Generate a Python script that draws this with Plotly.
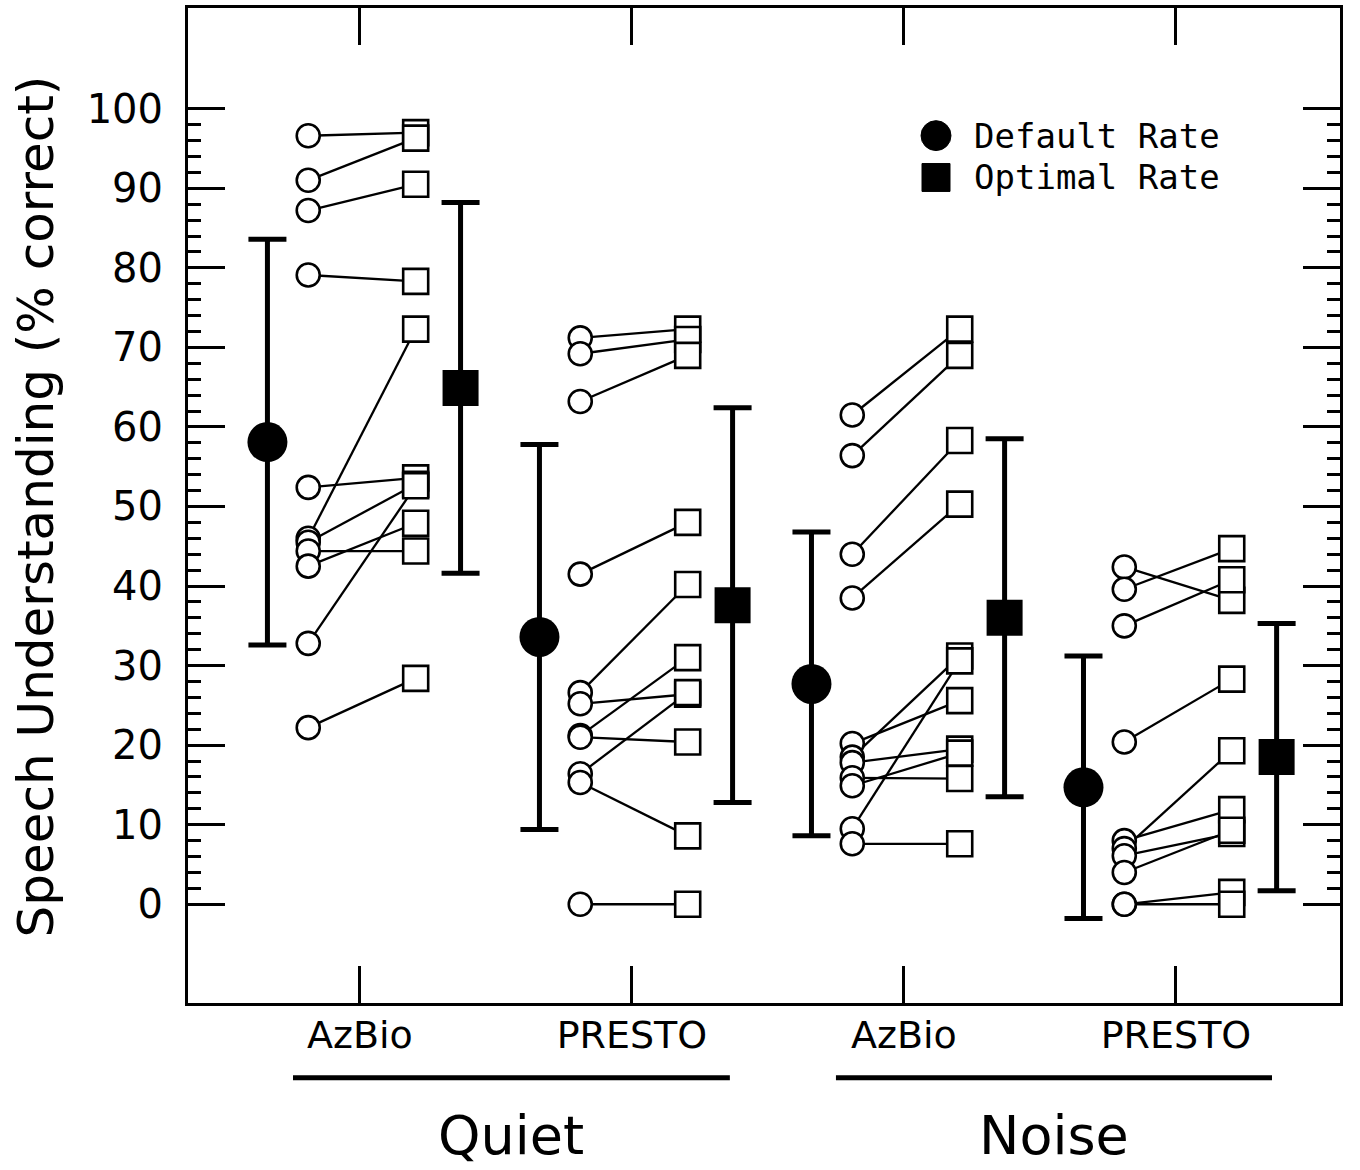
import plotly.graph_objects as go

# ---------------- data ----------------
categories = ["AzBio", "PRESTO", "AzBio", "PRESTO"]
groups = ["Quiet", "Noise"]
y_tick_labels = [str(v) for v in range(0, 101, 10)]

quiet_azbio_default = [96.6, 91.0, 87.2, 79.1, 52.4, 46.0, 45.5, 44.4, 42.5, 32.8, 22.2]
quiet_azbio_optimal = [97.0, 96.3, 90.5, 78.3, 53.6, 72.3, 52.8, 44.4, 47.9, 52.6, 28.4]

quiet_presto_default = [71.2, 69.2, 63.2, 41.5, 26.6, 25.2, 21.2, 21.0, 16.4, 15.3, 0.0]
quiet_presto_optimal = [72.3, 71.0, 69.0, 48.0, 40.2, 26.4, 31.0, 20.4, 26.6, 8.6, 0.0]

noise_azbio_default = [61.5, 56.4, 44.0, 38.5, 20.2, 18.5, 17.8, 15.9, 14.9, 9.5, 7.6]
noise_azbio_optimal = [72.3, 69.0, 58.3, 50.3, 25.6, 31.2, 19.5, 15.8, 19.0, 30.6, 7.6]

noise_presto_default = [42.4, 39.6, 35.0, 20.4, 8.0, 7.0, 6.1, 4.0, 0.0, 0.0]
noise_presto_optimal = [38.2, 44.7, 40.8, 28.3, 11.9, 19.3, 8.9, 9.3, 1.5, 0.0]

mean_default = [58.1, 33.6, 27.7, 14.7]
sd_default = [25.5, 24.2, 19.1, 16.5]
mean_optimal = [64.9, 37.6, 36.0, 18.5]
sd_optimal = [23.3, 24.8, 22.5, 16.8]

default_sets = [quiet_azbio_default, quiet_presto_default, noise_azbio_default, noise_presto_default]
optimal_sets = [quiet_azbio_optimal, quiet_presto_optimal, noise_azbio_optimal, noise_presto_optimal]

# ---------------- layout constants ----------------
positions = [1, 2, 3, 4]
OFF_IND_DEF = -0.19
OFF_IND_OPT = 0.205
OFF_MEAN_DEF = -0.34
OFF_MEAN_OPT = 0.37
FONT = "DejaVu Sans"

fig = go.Figure()

# connecting lines
lx, ly = [], []
for pos, d, o in zip(positions, default_sets, optimal_sets):
    for a, b in zip(d, o):
        lx += [pos + OFF_IND_DEF, pos + OFF_IND_OPT, None]
        ly += [a, b, None]
fig.add_trace(go.Scatter(x=lx, y=ly, mode="lines", line=dict(color="black", width=2.3),
                         showlegend=False, hoverinfo="skip"))

# individual open circles / squares
cx, cy, sx, sy = [], [], [], []
for pos, d, o in zip(positions, default_sets, optimal_sets):
    cx += [pos + OFF_IND_DEF] * len(d)
    cy += d
    sx += [pos + OFF_IND_OPT] * len(o)
    sy += o
fig.add_trace(go.Scatter(x=cx, y=cy, mode="markers",
                         marker=dict(symbol="circle", size=23, color="white",
                                     line=dict(color="black", width=2.6)),
                         showlegend=False))
fig.add_trace(go.Scatter(x=sx, y=sy, mode="markers",
                         marker=dict(symbol="square", size=25, color="white",
                                     line=dict(color="black", width=2.6)),
                         showlegend=False))

# means with error bars
fig.add_trace(go.Scatter(x=[p + OFF_MEAN_DEF for p in positions], y=mean_default, mode="markers",
                         marker=dict(symbol="circle", size=40, color="black"),
                         error_y=dict(type="data", array=sd_default, visible=True,
                                      color="black", thickness=5, width=19),
                         showlegend=False))
fig.add_trace(go.Scatter(x=[p + OFF_MEAN_OPT for p in positions], y=mean_optimal, mode="markers",
                         marker=dict(symbol="square", size=36, color="black"),
                         error_y=dict(type="data", array=sd_optimal, visible=True,
                                      color="black", thickness=5, width=19),
                         showlegend=False))

# ---------------- pixel helpers (layout only) ----------------
L, R, T, B = 188, 1340, 5, 1003
W, H = R - L, B - T
def px_x(px):
    return (px - L) / W
def px_y(py):
    return (B - py) / H

shapes = []
# legend symbols
shapes.append(dict(type="circle", xref="paper", yref="paper",
                   x0=px_x(921), x1=px_x(951), y0=px_y(148), y1=px_y(118),
                   fillcolor="black", line=dict(color="black", width=1)))
shapes.append(dict(type="rect", xref="paper", yref="paper",
                   x0=px_x(922), x1=px_x(950), y0=px_y(189), y1=px_y(161),
                   fillcolor="black", line=dict(color="black", width=1)))
# group underlines
for x0, x1 in [(0.754, 2.36), (2.75, 4.353)]:
    shapes.append(dict(type="line", xref="x", yref="paper", x0=x0, x1=x1,
                       y0=px_y(1078), y1=px_y(1078), line=dict(color="black", width=5)))

annotations = [
    dict(text="Default Rate", x=px_x(972), y=px_y(133), xref="paper", yref="paper",
         xanchor="left", yanchor="middle", showarrow=False,
         font=dict(family="DejaVu Sans Mono", size=34, color="black")),
    dict(text="Optimal Rate", x=px_x(972), y=px_y(175), xref="paper", yref="paper",
         xanchor="left", yanchor="middle", showarrow=False,
         font=dict(family="DejaVu Sans Mono", size=34, color="black")),
    dict(text="Speech Understanding (% correct)", x=px_x(36), y=px_y(505),
         xref="paper", yref="paper", xanchor="center", yanchor="middle",
         textangle=-90, showarrow=False,
         font=dict(family=FONT, size=50, color="black")),
    dict(text=groups[0], x=(0.754 + 2.36) / 2, y=px_y(1136), xref="x", yref="paper",
         xanchor="center", yanchor="middle", showarrow=False,
         font=dict(family=FONT, size=54, color="black")),
    dict(text=groups[1], x=(2.75 + 4.353) / 2, y=px_y(1136), xref="x", yref="paper",
         xanchor="center", yanchor="middle", showarrow=False,
         font=dict(family=FONT, size=54, color="black")),
]

minor_vals = [v for v in range(0, 101, 2) if v % 10 != 0]

fig.update_layout(
    width=1360, height=1170,
    margin=dict(l=L, r=1360 - R, t=T, b=1170 - B),
    paper_bgcolor="white", plot_bgcolor="white",
    shapes=shapes, annotations=annotations,
    showlegend=False,
    xaxis=dict(range=[0.368, 4.603], tickmode="array", tickvals=positions, ticktext=categories,
               ticks="inside", ticklen=37, tickwidth=3, tickcolor="black",
               showline=True, linewidth=3, linecolor="black", mirror="ticks",
               showgrid=False, zeroline=False, ticklabelstandoff=-4,
               tickfont=dict(family=FONT, size=38, color="black")),
    yaxis=dict(range=[-12.41, 112.66], tickmode="array", tickvals=list(range(0, 101, 10)),
               ticktext=y_tick_labels,
               ticks="inside", ticklen=37, tickwidth=3, tickcolor="black",
               showline=True, linewidth=3, linecolor="black", mirror="ticks",
               showgrid=False, zeroline=False, ticklabelstandoff=14,
               minor=dict(tickmode="array", tickvals=minor_vals, ticks="inside",
                          ticklen=13, tickwidth=3, tickcolor="black", showgrid=False),
               tickfont=dict(family=FONT, size=40, color="black")),
)

fig.write_html("out.html", config={"displayModeBar": False},
               post_script="document.body.style.margin='0px';document.body.style.padding='0px';")
